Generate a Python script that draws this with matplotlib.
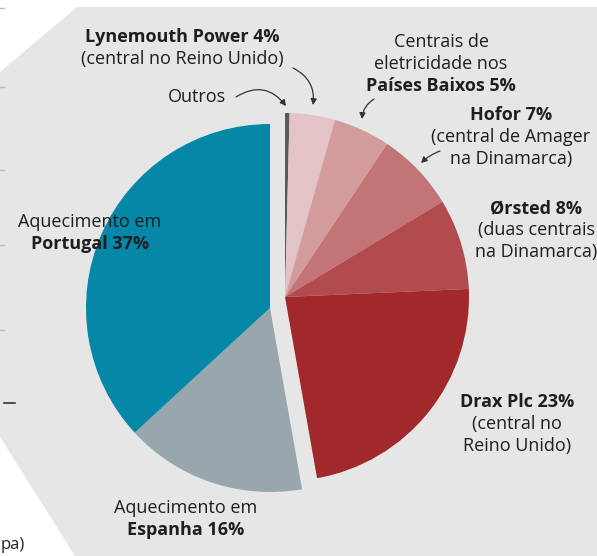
import matplotlib.pyplot as plt
from matplotlib.patches import Polygon

plt.rcParams['font.family'] = ['Open Sans', 'DejaVu Sans']

# clockwise from the top
sectors = ['Outros', 'Lynemouth Power', 'Países Baixos', 'Hofor', 'Ørsted',
           'Drax Plc', 'Espanha', 'Portugal']
shares = [0.4, 4, 5, 7, 8, 23, 16, 37]
colors = ['#5a5a5a', '#e3c3c5', '#d39b9c', '#c27476', '#b24b4d',
          '#a1292b', '#97a7ad', '#0587a8']
left_group = ['Espanha', 'Portugal']

W, H = 597, 556
def py(y):
    return H - y

fig = plt.figure(figsize=(5.97, 5.56), dpi=100)
fig.patch.set_facecolor('white')
ax = fig.add_axes([0, 0, 1, 1])

right_c = (285, py(297))
left_c = (270, py(308))
R = 184

wedges, _ = ax.pie(shares, colors=colors, startangle=90, counterclock=False,
                   radius=R, center=right_c, wedgeprops=dict(linewidth=0))
for w, name in zip(wedges, sectors):
    w.set_zorder(2)
    if name in left_group:
        w.set_center(left_c)

ax.set_xlim(0, W)
ax.set_ylim(0, H)
ax.set_aspect('auto')
ax.axis('off')

# grey background panel
bg = Polygon([(77, py(7)), (W, py(7)), (W, py(556)), (75, py(556)),
              (0, py(437)), (0, py(72))], closed=True,
             facecolor='#e6e6e6', edgecolor='none', zorder=0)
ax.add_patch(bg)

# bits of the neighbouring figure at the left edge
for yy in [8, 87, 170, 245, 330]:
    ax.plot([0, 4], [py(yy), py(yy)], color='#bbbbbb', lw=1, zorder=1)
ax.plot([4, 15], [py(403), py(403)], color='#333333', lw=1.2, zorder=1)
ax.text(1, py(545), 'pa)', fontsize=12, color='#222222', ha='left', va='center')

tc = '#1e1e1e'
fs = 13
lh = 22

def block(x, y, lines, ha='center'):
    for i, (txt, bold) in enumerate(lines):
        ax.text(x, py(y + i * lh), txt, fontsize=fs, color=tc, ha=ha, va='center',
                fontweight='bold' if bold else 'normal', zorder=5)

block(182, 37, [('Lynemouth Power 4%', True), ('(central no Reino Unido)', False)])
block(197, 97, [('Outros', False)])
block(441, 42, [('Centrais de', False), ('eletricidade nos', False),
                ('Países Baixos 5%', True)])
block(511, 115, [('Hofor 7%', True), ('(central de Amager', False),
                 ('na Dinamarca)', False)])
block(536, 208, [('Ørsted 8%', True), ('(duas centrais', False),
                 ('na Dinamarca)', False)])
block(517, 402, [('Drax Plc 23%', True), ('(central no', False),
                 ('Reino Unido)', False)])
block(90, 222, [('Aquecimento em', False), ('Portugal 37%', True)])
block(186, 508, [('Aquecimento em', False), ('Espanha 16%', True)])

arrow = dict(arrowstyle='-|>,head_length=0.35,head_width=0.18', color='#333333',
             lw=0.9, shrinkA=0, shrinkB=0)

def curved(p0, p1, rad):
    ax.annotate('', xy=(p1[0], py(p1[1])), xytext=(p0[0], py(p0[1])),
                arrowprops=dict(arrow, connectionstyle='arc3,rad=%s' % rad), zorder=6)

curved((236, 97), (286, 106), -0.45)
curved((293, 68), (313, 105), -0.35)
curved((374, 99), (362, 119), 0.25)
curved((440, 151), (421, 163), 0.1)

plt.savefig('out.png', dpi=100, facecolor='white')
